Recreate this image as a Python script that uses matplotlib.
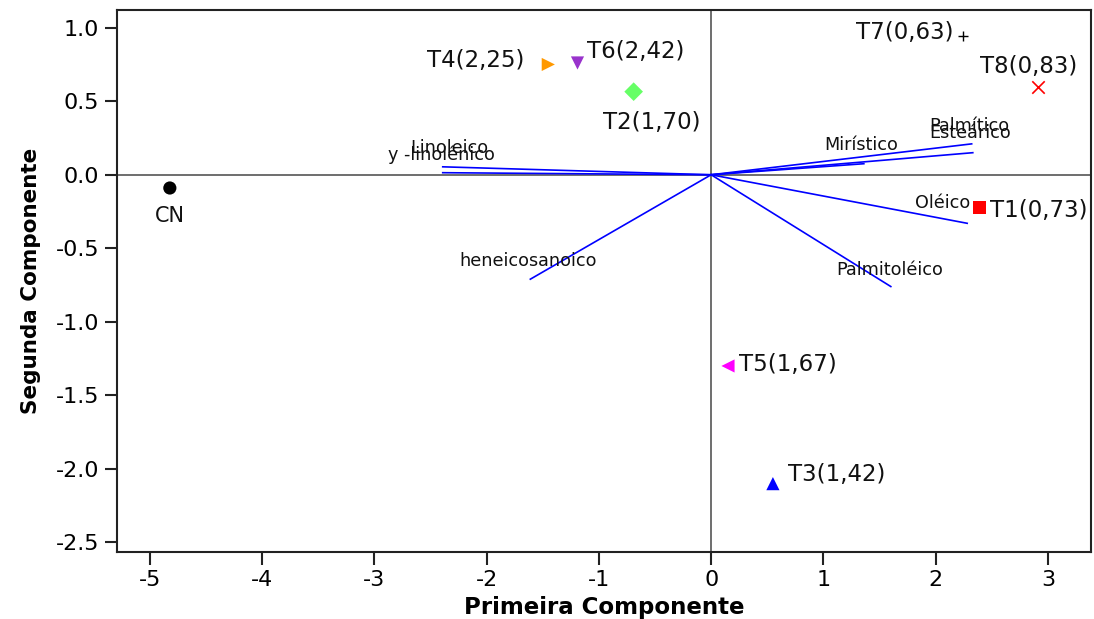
import matplotlib
matplotlib.use("Agg")
import matplotlib.pyplot as plt

# Scores (treatments)
names = ["CN", "T1(0,73)", "T2(1,70)", "T3(1,42)", "T4(2,25)", "T5(1,67)", "T6(2,42)", "T7(0,63)", "T8(0,83)"]
pc1 = [-4.82, 2.39, -0.69, 0.55, -1.45, 0.15, -1.19, 2.24, 2.91]
pc2 = [-0.09, -0.22, 0.565, -2.10, 0.75, -1.30, 0.76, 0.945, 0.60]
markers = ["o", "s", "D", "^", ">", "<", "v", "+", "x"]
colors = ["black", "red", "#66ff66", "blue", "#ff9900", "#ff00ff", "#9933cc", "black", "red"]
label_dx = [0.0, 0.53, 0.165, 0.57, -0.65, 0.53, 0.52, -0.52, -0.08]
label_dy = [-0.19, -0.02, -0.21, 0.06, 0.03, 0.01, 0.077, 0.02, 0.135]

# Loadings (fatty acids)
acids = ["Linoleico", "y -linolênico", "heneicosanoico", "Mirístico", "Palmítico", "Esteárico", "Oléico", "Palmitoléico"]
load1 = [-2.39, -2.39, -1.61, 1.36, 2.32, 2.33, 2.28, 1.60]
load2 = [0.054, 0.014, -0.71, 0.075, 0.21, 0.15, -0.33, -0.76]
acid_lx = [-2.33, -2.40, -1.63, 1.34, 2.30, 2.31, 2.06, 1.59]
acid_ly = [0.18, 0.135, -0.585, 0.20, 0.33, 0.285, -0.19, -0.65]

fig = plt.figure(figsize=(10.94, 6.19), dpi=100)
ax = fig.add_axes([0.107, 0.1082, 0.890, 0.8756])
ax.set_xlim(-5.29, 3.38)
ax.set_ylim(-2.565, 1.12)

ax.axhline(0, color="#555555", lw=1.2, zorder=1)
ax.axvline(0, color="#555555", lw=1.2, zorder=1)

for a, x, y, lx, ly in zip(acids, load1, load2, acid_lx, acid_ly):
    ax.plot([0, x], [0, y], color="blue", lw=1.2, zorder=2)
    ax.text(lx, ly, a, fontsize=12.7, ha="center", va="center", color="#111111", zorder=3)

for n, x, y, m, c, dx, dy in zip(names, pc1, pc2, markers, colors, label_dx, label_dy):
    if m == "+":
        ax.scatter([x], [y], marker=m, s=60, c=c, linewidths=1.0, zorder=4)
    elif m == "x":
        ax.scatter([x], [y], marker=m, s=80, c=c, linewidths=1.2, zorder=4)
    else:
        ax.scatter([x], [y], marker=m, s=90, c=c, edgecolors="none", zorder=4)
    fs = 15 if n == "CN" else 16.5
    ax.text(x + dx, y + dy, n, fontsize=fs, ha="center", va="center", color="#111111", zorder=5)

ax.set_xticks([-5, -4, -3, -2, -1, 0, 1, 2, 3])
ax.set_yticks([1.0, 0.5, 0.0, -0.5, -1.0, -1.5, -2.0, -2.5])
ax.set_yticklabels(["1.0", "0.5", "0.0", "-0.5", "-1.0", "-1.5", "-2.0", "-2.5"])
ax.set_xticklabels(["-5", "-4", "-3", "-2", "-1", "0", "1", "2", "3"])
ax.tick_params(axis="both", labelsize=16, length=9, width=1.5, direction="out", color="#222222", pad=4)
for s in ax.spines.values():
    s.set_linewidth(1.5)
    s.set_color("#222222")

ax.set_xlabel("Primeira Componente", fontsize=16.5, fontweight="bold", labelpad=4)
ax.set_ylabel("Segunda Componente", fontsize=15.5, fontweight="bold", labelpad=10)

fig.savefig("out.png", dpi=100)
